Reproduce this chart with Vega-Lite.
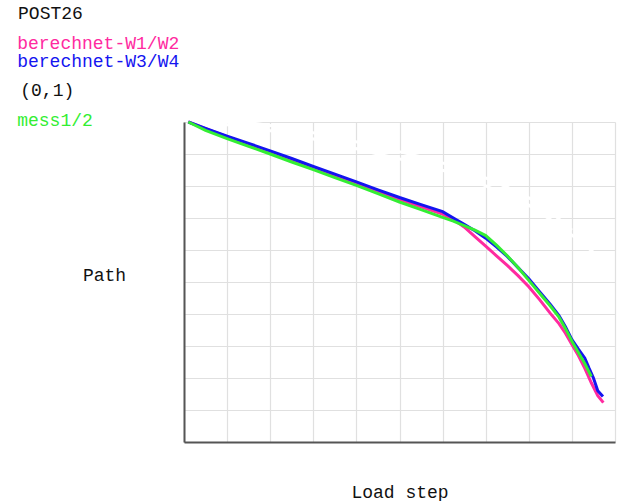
{
  "$schema": "https://vega.github.io/schema/vega-lite/v6.json",
  "width": 431,
  "height": 320,
  "autosize": {"type": "none"},
  "padding": {"left": 184, "top": 122, "right": 2, "bottom": 59},
  "background": "white",
  "config": {
    "view": {"stroke": null},
    "font": "Liberation Mono",
    "axis": {
      "domainColor": "#555555",
      "domainWidth": 2,
      "ticks": false,
      "labels": false,
      "grid": true,
      "gridColor": "#e0e0e0",
      "gridWidth": 1.2,
      "titleFont": "Liberation Mono",
      "titleFontWeight": "normal",
      "titleFontSize": 18,
      "titleColor": "#111111"
    }
  },
  "resolve": {"axis": {"x": "independent", "y": "independent"}},
  "datasets": {
    "curves": [
      {"series": "ref-a", "x": 0.14, "y": 9.97}, {"series": "ref-a", "x": 1.22, "y": 9.9}, {"series": "ref-a", "x": 2.38, "y": 9.64}, {"series": "ref-a", "x": 3.54, "y": 9.32}, {"series": "ref-a", "x": 4.47, "y": 9.01}, {"series": "ref-a", "x": 5.48, "y": 8.7}, {"series": "ref-a", "x": 6.25, "y": 8.39}, {"series": "ref-a", "x": 6.87, "y": 8.08}, {"series": "ref-a", "x": 7.99, "y": 7.41}, {"series": "ref-a", "x": 8.79, "y": 6.69}, {"series": "ref-a", "x": 9.49, "y": 5.94},
      {"series": "ref-b", "x": 0.3, "y": 10.0}, {"series": "ref-b", "x": 1.4, "y": 10.0}, {"series": "ref-b", "x": 2.5, "y": 9.8}, {"series": "ref-b", "x": 3.6, "y": 9.5}, {"series": "ref-b", "x": 4.6, "y": 9.2}, {"series": "ref-b", "x": 5.6, "y": 8.88}, {"series": "ref-b", "x": 6.4, "y": 8.56}, {"series": "ref-b", "x": 7.1, "y": 8.2}, {"series": "ref-b", "x": 7.9, "y": 7.72}, {"series": "ref-b", "x": 8.5, "y": 7.2}, {"series": "ref-b", "x": 9.0, "y": 6.62},
      {"series": "berechnet-W1/W2", "x": 0.1, "y": 10.0}, {"series": "berechnet-W1/W2", "x": 0.5, "y": 9.79}, {"series": "berechnet-W1/W2", "x": 1.0, "y": 9.54}, {"series": "berechnet-W1/W2", "x": 1.5, "y": 9.3}, {"series": "berechnet-W1/W2", "x": 2.0, "y": 9.07}, {"series": "berechnet-W1/W2", "x": 2.5, "y": 8.82}, {"series": "berechnet-W1/W2", "x": 3.0, "y": 8.57}, {"series": "berechnet-W1/W2", "x": 3.5, "y": 8.32}, {"series": "berechnet-W1/W2", "x": 4.0, "y": 8.08}, {"series": "berechnet-W1/W2", "x": 4.5, "y": 7.83}, {"series": "berechnet-W1/W2", "x": 5.0, "y": 7.58}, {"series": "berechnet-W1/W2", "x": 5.5, "y": 7.35}, {"series": "berechnet-W1/W2", "x": 6.0, "y": 7.12}, {"series": "berechnet-W1/W2", "x": 6.25, "y": 6.95}, {"series": "berechnet-W1/W2", "x": 6.5, "y": 6.72}, {"series": "berechnet-W1/W2", "x": 6.75, "y": 6.42}, {"series": "berechnet-W1/W2", "x": 7.0, "y": 6.12}, {"series": "berechnet-W1/W2", "x": 7.25, "y": 5.82}, {"series": "berechnet-W1/W2", "x": 7.5, "y": 5.52}, {"series": "berechnet-W1/W2", "x": 7.75, "y": 5.2}, {"series": "berechnet-W1/W2", "x": 8.0, "y": 4.85}, {"series": "berechnet-W1/W2", "x": 8.25, "y": 4.45}, {"series": "berechnet-W1/W2", "x": 8.5, "y": 4.02}, {"series": "berechnet-W1/W2", "x": 8.7, "y": 3.7}, {"series": "berechnet-W1/W2", "x": 8.85, "y": 3.4}, {"series": "berechnet-W1/W2", "x": 9.0, "y": 3.05}, {"series": "berechnet-W1/W2", "x": 9.15, "y": 2.7}, {"series": "berechnet-W1/W2", "x": 9.3, "y": 2.3}, {"series": "berechnet-W1/W2", "x": 9.45, "y": 1.85}, {"series": "berechnet-W1/W2", "x": 9.6, "y": 1.45}, {"series": "berechnet-W1/W2", "x": 9.73, "y": 1.23},
      {"series": "berechnet-W3/W4", "x": 0.1, "y": 10.0}, {"series": "berechnet-W3/W4", "x": 0.5, "y": 9.8}, {"series": "berechnet-W3/W4", "x": 1.0, "y": 9.56}, {"series": "berechnet-W3/W4", "x": 1.5, "y": 9.33}, {"series": "berechnet-W3/W4", "x": 2.0, "y": 9.1}, {"series": "berechnet-W3/W4", "x": 2.5, "y": 8.86}, {"series": "berechnet-W3/W4", "x": 3.0, "y": 8.61}, {"series": "berechnet-W3/W4", "x": 3.5, "y": 8.37}, {"series": "berechnet-W3/W4", "x": 4.0, "y": 8.13}, {"series": "berechnet-W3/W4", "x": 4.5, "y": 7.88}, {"series": "berechnet-W3/W4", "x": 5.0, "y": 7.64}, {"series": "berechnet-W3/W4", "x": 5.5, "y": 7.42}, {"series": "berechnet-W3/W4", "x": 6.0, "y": 7.2}, {"series": "berechnet-W3/W4", "x": 6.25, "y": 7.0}, {"series": "berechnet-W3/W4", "x": 6.5, "y": 6.8}, {"series": "berechnet-W3/W4", "x": 6.75, "y": 6.6}, {"series": "berechnet-W3/W4", "x": 7.0, "y": 6.37}, {"series": "berechnet-W3/W4", "x": 7.25, "y": 6.1}, {"series": "berechnet-W3/W4", "x": 7.5, "y": 5.8}, {"series": "berechnet-W3/W4", "x": 7.75, "y": 5.45}, {"series": "berechnet-W3/W4", "x": 8.0, "y": 5.1}, {"series": "berechnet-W3/W4", "x": 8.25, "y": 4.7}, {"series": "berechnet-W3/W4", "x": 8.5, "y": 4.3}, {"series": "berechnet-W3/W4", "x": 8.7, "y": 3.95}, {"series": "berechnet-W3/W4", "x": 8.85, "y": 3.6}, {"series": "berechnet-W3/W4", "x": 9.0, "y": 3.2}, {"series": "berechnet-W3/W4", "x": 9.15, "y": 2.9}, {"series": "berechnet-W3/W4", "x": 9.3, "y": 2.62}, {"series": "berechnet-W3/W4", "x": 9.4, "y": 2.3}, {"series": "berechnet-W3/W4", "x": 9.5, "y": 2.0}, {"series": "berechnet-W3/W4", "x": 9.6, "y": 1.6}, {"series": "berechnet-W3/W4", "x": 9.72, "y": 1.42},
      {"series": "mess1/2", "x": 0.1, "y": 10.0}, {"series": "mess1/2", "x": 0.5, "y": 9.74}, {"series": "mess1/2", "x": 1.0, "y": 9.48}, {"series": "mess1/2", "x": 1.5, "y": 9.24}, {"series": "mess1/2", "x": 2.0, "y": 9.0}, {"series": "mess1/2", "x": 2.5, "y": 8.75}, {"series": "mess1/2", "x": 3.0, "y": 8.51}, {"series": "mess1/2", "x": 3.5, "y": 8.26}, {"series": "mess1/2", "x": 4.0, "y": 8.02}, {"series": "mess1/2", "x": 4.5, "y": 7.76}, {"series": "mess1/2", "x": 5.0, "y": 7.5}, {"series": "mess1/2", "x": 5.5, "y": 7.26}, {"series": "mess1/2", "x": 6.0, "y": 7.02}, {"series": "mess1/2", "x": 6.25, "y": 6.9}, {"series": "mess1/2", "x": 6.5, "y": 6.76}, {"series": "mess1/2", "x": 6.75, "y": 6.62}, {"series": "mess1/2", "x": 7.0, "y": 6.45}, {"series": "mess1/2", "x": 7.25, "y": 6.15}, {"series": "mess1/2", "x": 7.5, "y": 5.82}, {"series": "mess1/2", "x": 7.75, "y": 5.45}, {"series": "mess1/2", "x": 8.0, "y": 5.05}, {"series": "mess1/2", "x": 8.25, "y": 4.65}, {"series": "mess1/2", "x": 8.5, "y": 4.25}, {"series": "mess1/2", "x": 8.7, "y": 3.9}, {"series": "mess1/2", "x": 8.85, "y": 3.55}, {"series": "mess1/2", "x": 9.0, "y": 3.15}, {"series": "mess1/2", "x": 9.15, "y": 2.8}, {"series": "mess1/2", "x": 9.3, "y": 2.45}, {"series": "mess1/2", "x": 9.45, "y": 2.05}
    ],
    "labels": [
      {"label": "POST26"},
      {"label": "berechnet-W1/W2"},
      {"label": "berechnet-W3/W4"},
      {"label": "(0,1)"},
      {"label": "mess1/2"}
    ]
  },
  "layer": [
    {
      "data": {"name": "curves"},
      "transform": [{"filter": "datum.series === 'ref-a' || datum.series === 'ref-b'"}],
      "mark": {"type": "line", "strokeWidth": 3, "color": "#ffffff"},
      "encoding": {
        "x": {"field": "x", "type": "quantitative", "scale": {"domain": [0, 10], "nice": false, "zero": false},
          "axis": {"values": [0,1,2,3,4,5,6,7,8,9,10], "title": "Load step", "titleY": 50, "titleBaseline": "middle", "titleAlign": "center"}},
        "y": {"field": "y", "type": "quantitative", "scale": {"domain": [0, 10], "nice": false, "zero": false},
          "axis": {"values": [0,1,2,3,4,5,6,7,8,9,10], "title": "Path", "titleAngle": 0, "titleX": -80, "titleY": 153, "titleAlign": "center", "titleBaseline": "middle"}},
        "detail": {"field": "series", "type": "nominal"}
      }
    },
    {
      "data": {"name": "curves"},
      "transform": [{"filter": "datum.series === 'berechnet-W1/W2'"}],
      "mark": {"type": "line", "strokeWidth": 3, "color": "#ff2aa0"},
      "encoding": {"x": {"field": "x", "type": "quantitative", "axis": null}, "y": {"field": "y", "type": "quantitative", "axis": null}}
    },
    {
      "data": {"name": "curves"},
      "transform": [{"filter": "datum.series === 'berechnet-W3/W4'"}],
      "mark": {"type": "line", "strokeWidth": 3, "color": "#1414f0"},
      "encoding": {"x": {"field": "x", "type": "quantitative", "axis": null}, "y": {"field": "y", "type": "quantitative", "axis": null}}
    },
    {
      "data": {"name": "curves"},
      "transform": [{"filter": "datum.series === 'mess1/2'"}],
      "mark": {"type": "line", "strokeWidth": 3, "color": "#33ee33"},
      "encoding": {"x": {"field": "x", "type": "quantitative", "axis": null}, "y": {"field": "y", "type": "quantitative", "axis": null}}
    },
    {
      "data": {"name": "labels"},
      "transform": [{"filter": "datum.label === 'POST26'"}],
      "mark": {"type": "text", "align": "left", "baseline": "middle", "fontSize": 18, "font": "Liberation Mono", "color": "#111111"},
      "encoding": {"x": {"datum": -3.85, "type": "quantitative", "axis": null}, "y": {"datum": 13.375, "type": "quantitative", "axis": null}, "text": {"field": "label"}}
    },
    {
      "data": {"name": "labels"},
      "transform": [{"filter": "datum.label === 'berechnet-W1/W2'"}],
      "mark": {"type": "text", "align": "left", "baseline": "middle", "fontSize": 18, "font": "Liberation Mono", "color": "#ff2aa0"},
      "encoding": {"x": {"datum": -3.87, "type": "quantitative", "axis": null}, "y": {"datum": 12.44, "type": "quantitative", "axis": null}, "text": {"field": "label"}}
    },
    {
      "data": {"name": "labels"},
      "transform": [{"filter": "datum.label === 'berechnet-W3/W4'"}],
      "mark": {"type": "text", "align": "left", "baseline": "middle", "fontSize": 18, "font": "Liberation Mono", "color": "#1414f0"},
      "encoding": {"x": {"datum": -3.87, "type": "quantitative", "axis": null}, "y": {"datum": 11.875, "type": "quantitative", "axis": null}, "text": {"field": "label"}}
    },
    {
      "data": {"name": "labels"},
      "transform": [{"filter": "datum.label === '(0,1)'"}],
      "mark": {"type": "text", "align": "left", "baseline": "middle", "fontSize": 18, "font": "Liberation Mono", "color": "#111111"},
      "encoding": {"x": {"datum": -3.8, "type": "quantitative", "axis": null}, "y": {"datum": 10.97, "type": "quantitative", "axis": null}, "text": {"field": "label"}}
    },
    {
      "data": {"name": "labels"},
      "transform": [{"filter": "datum.label === 'mess1/2'"}],
      "mark": {"type": "text", "align": "left", "baseline": "middle", "fontSize": 18, "font": "Liberation Mono", "color": "#33ee33"},
      "encoding": {"x": {"datum": -3.87, "type": "quantitative", "axis": null}, "y": {"datum": 10.03, "type": "quantitative", "axis": null}, "text": {"field": "label"}}
    }
  ]
}
